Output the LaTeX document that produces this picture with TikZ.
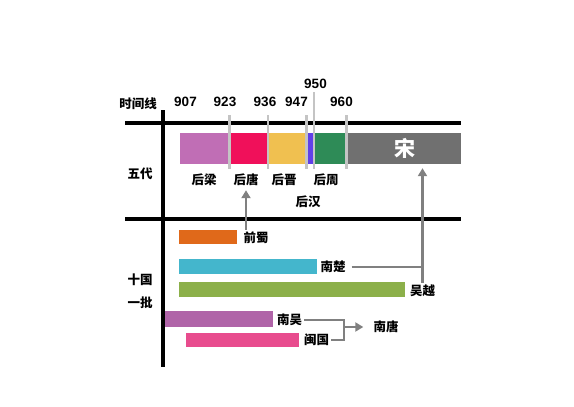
\documentclass[tikz,border=0pt]{standalone}
\usepackage{fontspec}
\setmainfont{Liberation Sans}
\newfontfamily\cjk{Noto Sans CJK SC}
\usetikzlibrary{arrows.meta}

\definecolor{cliang}{HTML}{C06EB5}
\definecolor{ctang}{HTML}{F0105A}
\definecolor{cjin}{HTML}{F0C050}
\definecolor{chan}{HTML}{6040E8}
\definecolor{czhou}{HTML}{2E8B57}
\definecolor{csong}{HTML}{707070}
\definecolor{cshu}{HTML}{E0691A}
\definecolor{cchu}{HTML}{44B6CC}
\definecolor{cyue}{HTML}{8CB04A}
\definecolor{cwu}{HTML}{B064A8}
\definecolor{cmin}{HTML}{E84C8E}
\definecolor{cline}{HTML}{808080}
\definecolor{ctick}{HTML}{C4C4C4}

\tikzstyle{bar}=[rectangle,inner sep=0,anchor=west,minimum height=31]
\tikzstyle{kbar}=[rectangle,inner sep=0,anchor=west,minimum height=15]
\tikzstyle{lbl}=[inner sep=2pt,font=\cjk\bfseries\fontsize{12.5}{14}\selectfont]
\tikzstyle{year}=[inner sep=1pt,font=\bfseries\fontsize{13.5}{15}\selectfont]
\tikzstyle{axis}=[line width=3.2pt,black]
\tikzstyle{tick}=[line width=2.6pt,ctick]
\tikzstyle{link}=[line width=2.8pt,cline]
\tikzstyle{arr}=[line width=2.8pt,cline,-{Triangle[length=8pt,width=9pt]}]

\begin{document}
\begin{tikzpicture}[x=1pt,y=-1pt]
\useasboundingbox (0,0) rectangle (574,407);

\draw[axis] (125,123) -- (461,123);
\draw[axis] (125,219) -- (461,219);
\draw[axis] (163,110) -- (163,367);

\node (tl) at (138,104) [lbl] {时间线};
\node (wd) at (140,174) [lbl] {五代};
\node (sg) at (140,280) [lbl] {十国};
\node (yp) at (140,303) [lbl] {一批};

\node (y907) at (185.5,102) [year] {907};
\node (y923) at (225,102) [year] {923};
\node (y936) at (265,102) [year] {936};
\node (y947) at (296.5,102) [year] {947};
\node (y950) at (315.5,84) [year] {950};
\node (y960) at (341.5,102) [year] {960};

\node (hliang) at (180,148.5) [bar, minimum width=49, fill=cliang] {};
\node (htang) at (229,148.5) [bar, minimum width=39, fill=ctang] {};
\node (hjin) at (268,148.5) [bar, minimum width=39, fill=cjin] {};
\node (hhan) at (307,148.5) [bar, minimum width=7, fill=chan] {};
\node (hzhou) at (314,148.5) [bar, minimum width=33, fill=czhou] {};
\node (song) at (347,148.5) [bar, minimum width=114, fill=csong] {};
\node at (405,148) [font=\cjk\bfseries\fontsize{21}{23}\selectfont, text=white] {宋};

\draw[tick] (229.5,115) -- (229.5,169);
\draw[tick] (268,115) -- (268,169);
\draw[tick] (306.5,115) -- (306.5,169);
\draw[tick] (314,92) -- (314,169);
\draw[tick] (346.5,115) -- (346.5,169);

\node (hliangL) at (204,180) [lbl] {后梁};
\node (htangL) at (246,180) [lbl] {后唐};
\node (hjinL) at (284,180) [lbl] {后晋};
\node (hzhouL) at (326,180) [lbl] {后周};
\node (hhanL) at (308,202) [lbl] {后汉};

\node (qshu) at (179,237) [kbar, minimum width=58, minimum height=14, fill=cshu] {};
\node (nchu) at (179,266.5) [kbar, minimum width=138, fill=cchu] {};
\node (wyue) at (179,289.5) [kbar, minimum width=226, fill=cyue] {};
\node (nwu) at (165,319) [kbar, minimum width=108, minimum height=16, fill=cwu] {};
\node (mguo) at (186,340) [kbar, minimum width=113, minimum height=14, fill=cmin] {};

\node (qshuL) at (256,238) [lbl] {前蜀};
\node (nchuL) at (333,267) [lbl] {南楚};
\node (wyueL) at (422.5,291) [lbl] {吴越};
\node (nwuL) at (289.5,320) [lbl] {南吴};
\node (mguoL) at (316.5,340) [lbl] {闽国};
\node (ntangL) at (386,327) [lbl] {南唐};

\coordinate (m) at (344,327);

\draw[arr, shorten >=2pt] (htangL.south |- qshuL.north) -- (htangL.south);
\draw[arr, shorten >=4pt] (wyueL.north) -- (wyueL.north |- song.south);
\draw[link, shorten <=4pt] (nchuL.east) -- (nchuL.east -| wyueL.north);
\draw[link, line join=miter] (nwuL.east) -| (m) |- (mguoL.east);
\draw[arr, shorten >=8pt] (m) -- (ntangL.west);

\end{tikzpicture}
\end{document}
